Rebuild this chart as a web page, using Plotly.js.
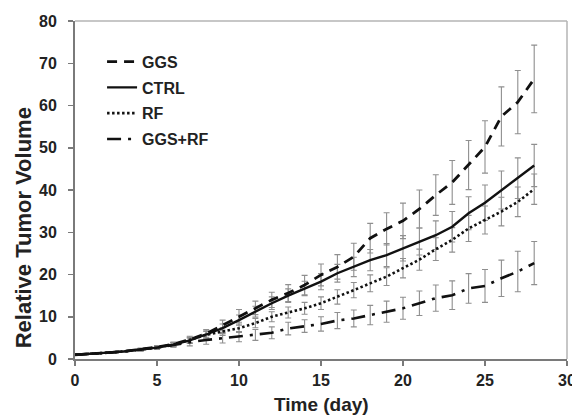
<!DOCTYPE html>
<html><head><meta charset="utf-8">
<script src="https://cdn.plot.ly/plotly-3.0.1.min.js"></script>
<style>html,body{margin:0;padding:0;background:#fff;}#chart{width:572px;height:416px;}</style>
</head><body><div id="chart"></div>
<script>
const days = [0,1,2,3,4,5,6,7,8,9,10,11,12,13,14,15,16,17,18,19,20,21,22,23,24,25,26,27,28];
const seriesNames = ["GGS","CTRL","RF","GGS+RF"];
const ggs = [1,1.2,1.5,1.8,2.3,2.8,3.5,4.6,6,8,10.2,12.1,14,15.6,17.5,19.9,21.8,24.2,28.6,30.8,32.7,35.5,38.8,41.8,45.9,50.2,57.4,60.8,66.3];
const ggsErr = [0,0.1,0.15,0.2,0.3,0.4,0.5,0.8,1,1.2,1.5,1.6,1.8,2,2.3,2.6,2.9,3.2,3.5,3.8,4.2,4.5,4.8,5.2,5.8,6.2,7,7.5,8];
const ctrl = [1,1.2,1.5,1.8,2.2,2.7,3.4,4.4,5.8,7.3,9.2,11.2,13.2,15,16.7,18.3,20.3,21.8,23.4,24.6,26.2,27.8,29.3,31.3,34.5,37,40,42.8,45.8];
const ctrlErr = [0,0.1,0.15,0.2,0.3,0.4,0.5,0.7,0.9,1,1.2,1.3,1.5,1.6,1.7,1.9,2.1,2.3,2.5,2.7,3,3.2,3.4,3.6,3.9,4.2,4.5,4.8,5];
const rf = [1,1.2,1.5,1.8,2.2,2.7,3.4,4.5,5.7,6.5,7.3,8.5,10,11,12,13.2,14.7,16.3,17.9,19.5,21.5,23.5,26,28.2,30.9,32.9,34.9,37.2,40.2];
const rfErr = [0,0.1,0.15,0.2,0.3,0.4,0.5,0.7,0.8,0.9,1,1.1,1.2,1.3,1.4,1.5,1.7,1.8,2,2.1,2.3,2.5,2.7,2.9,3.1,3.3,3.4,3.5,3.6];
const ggsrf = [1,1.2,1.5,1.8,2.2,2.7,3.3,4,4.5,4.9,5.3,5.7,6.2,7.2,7.8,8.3,9.1,9.6,10.4,11.2,12,13.2,14.4,15.1,16.7,17.3,19.1,20.7,22.7];
const ggsrfErr = [0,0.1,0.15,0.2,0.3,0.4,0.5,0.9,1,1.1,1.2,1.3,1.4,1.5,1.5,1.7,1.9,2,2.3,2.5,2.6,2.9,3.1,3.4,3.5,3.9,4.3,4.8,5.1];
const xTitle = "Time (day)";
const yTitle = "Relative Tumor Volume";

const values = [ggs, ctrl, rf, ggsrf];
const errs = [ggsErr, ctrlErr, rfErr, ggsrfErr];
const dashes = ["10px,7px", "solid", "2.5px,2.5px", "14px,7px,3px,7px"];
const widths = [2.8, 2.4, 2.6, 2.6];

const traces = [];
values.forEach((v, i) => {
  traces.push({
    x: days, y: v, type: 'scatter', mode: 'markers',
    marker: {size: 1, opacity: 0},
    error_y: {type: 'data', array: errs[i], visible: true, color: '#8f8f8f', thickness: 1.1, width: 3},
    showlegend: false, hoverinfo: 'skip'
  });
});
values.forEach((v, i) => {
  traces.push({
    x: days, y: v, type: 'scatter', mode: 'lines', name: seriesNames[i],
    legendgroup: 'g' + i,
    line: {color: '#111', width: widths[i], dash: dashes[i]}
  });
});

const layout = {
  width: 572, height: 416,
  margin: {l: 75, r: 5, t: 21, b: 57},
  paper_bgcolor: '#fff', plot_bgcolor: '#fff',
  font: {family: 'Liberation Sans, Arial, sans-serif', color: '#222'},
  showlegend: true,
  legend: {x: 0.055, y: 0.93, xanchor: 'left', yanchor: 'top', bgcolor: 'rgba(0,0,0,0)',
    font: {size: 16, weight: 'bold', color: '#222'}, traceorder: 'grouped', tracegroupgap: 2},
  xaxis: {range: [0, 30], dtick: 5, tick0: 0, showgrid: false, zeroline: false,
    showline: true, linecolor: '#7a7a7a', linewidth: 2, ticks: 'outside', ticklen: 5, tickcolor: '#7a7a7a', tickwidth: 1.5,
    ticklabeloverflow: 'allow', ticklabelstandoff: 1,
    tickfont: {size: 16, weight: 'bold', color: '#222'}},
  yaxis: {range: [0, 80], dtick: 10, tick0: 0, showgrid: false, zeroline: false,
    showline: true, linecolor: '#7a7a7a', linewidth: 2, ticks: 'outside', ticklen: 5, tickcolor: '#7a7a7a', tickwidth: 1.5,
    ticklabelstandoff: 8,
    tickfont: {size: 16, weight: 'bold', color: '#222'}},
  annotations: [
    {text: yTitle, xref: 'paper', yref: 'paper', x: -0.1047, y: 0.388, xanchor: 'center', yanchor: 'middle',
      textangle: -90, showarrow: false, font: {size: 22, weight: 'bold', color: '#222'}},
    {text: xTitle, xref: 'paper', yref: 'paper', x: 0.5, y: -0.136, xanchor: 'center', yanchor: 'middle',
      showarrow: false, font: {size: 19, weight: 'bold', color: '#222'}}
  ],
  shapes: [
    {type: 'line', xref: 'paper', yref: 'paper', x0: 0, x1: 1, y0: 1, y1: 1, line: {color: '#b5b5b5', width: 1.5}},
    {type: 'line', xref: 'paper', yref: 'paper', x0: 1, x1: 1, y0: 0, y1: 1, line: {color: '#b5b5b5', width: 1.5}}
  ]
};
Plotly.newPlot('chart', traces, layout, {staticPlot: true, displayModeBar: false});
</script></body></html>
